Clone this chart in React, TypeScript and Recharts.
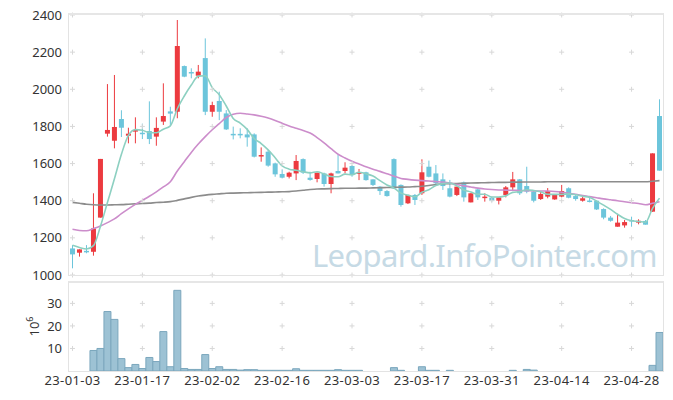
import {
  ComposedChart,
  Bar,
  Line,
  XAxis,
  YAxis,
  ReferenceDot,
} from 'recharts';

const dates = [
  '23-01-03', '23-01-04', '23-01-05', '23-01-06', '23-01-09', '23-01-10', '23-01-11', '23-01-12', '23-01-13', '23-01-16',
  '23-01-17', '23-01-18', '23-01-19', '23-01-20', '23-01-25', '23-01-26', '23-01-27', '23-01-30', '23-01-31', '23-02-01',
  '23-02-02', '23-02-03', '23-02-06', '23-02-07', '23-02-08', '23-02-09', '23-02-10', '23-02-13', '23-02-14', '23-02-15',
  '23-02-16', '23-02-17', '23-02-20', '23-02-21', '23-02-22', '23-02-23', '23-02-24', '23-02-27', '23-02-28', '23-03-02',
  '23-03-03', '23-03-06', '23-03-07', '23-03-08', '23-03-09', '23-03-10', '23-03-13', '23-03-14', '23-03-15', '23-03-16',
  '23-03-17', '23-03-20', '23-03-21', '23-03-22', '23-03-23', '23-03-24', '23-03-27', '23-03-28', '23-03-29', '23-03-30',
  '23-03-31', '23-04-03', '23-04-04', '23-04-05', '23-04-06', '23-04-07', '23-04-10', '23-04-11', '23-04-12', '23-04-13',
  '23-04-14', '23-04-17', '23-04-18', '23-04-19', '23-04-20', '23-04-21', '23-04-24', '23-04-25', '23-04-26', '23-04-27',
  '23-04-28', '23-05-02', '23-05-03', '23-05-04', '23-05-08',
];

const opens = [
  1143, 1120, 1130, 1125, 1309, 1761, 1723, 1840, 1750, 1772,
  1766, 1775, 1745, 1826, 1881, 1879, 2125, 2093, 2073, 2168,
  1879, 1937, 1870, 1760, 1760, 1757, 1757, 1643, 1664, 1601,
  1544, 1529, 1547, 1624, 1524, 1517, 1547, 1490, 1560, 1560,
  1587, 1547, 1553, 1515, 1476, 1452, 1624, 1485, 1386, 1431,
  1440, 1583, 1547, 1515, 1467, 1431, 1499, 1391, 1461, 1416,
  1416, 1400, 1431, 1472, 1515, 1479, 1449, 1409, 1422, 1407,
  1422, 1467, 1425, 1400, 1401, 1400, 1355, 1309, 1260, 1267,
  1296, 1282, 1291, 1341, 1856,
];
const highs = [
  1161, 1138, 1161, 1440, 1625, 2028, 2077, 1887, 1793, 1849,
  1815, 1935, 1849, 2032, 1906, 2373, 2128, 2113, 2131, 2274,
  1933, 1987, 1888, 1799, 1790, 1790, 1763, 1687, 1673, 1605,
  1569, 1556, 1646, 1628, 1556, 1551, 1551, 1551, 1646, 1607,
  1592, 1571, 1556, 1515, 1479, 1457, 1628, 1488, 1431, 1436,
  1623, 1616, 1592, 1547, 1512, 1476, 1503, 1440, 1467, 1440,
  1422, 1418, 1479, 1555, 1517, 1583, 1454, 1449, 1468, 1431,
  1485, 1472, 1431, 1422, 1418, 1402, 1359, 1318, 1327, 1296,
  1314, 1300, 1296, 1655, 1946,
];
const lows = [
  1036, 1099, 1117, 1104, 1309, 1745, 1682, 1743, 1709, 1709,
  1732, 1705, 1696, 1808, 1808, 1844, 2065, 2059, 2059, 1861,
  1852, 1834, 1781, 1730, 1736, 1691, 1633, 1610, 1583, 1529,
  1520, 1520, 1511, 1544, 1508, 1499, 1476, 1440, 1547, 1547,
  1529, 1511, 1508, 1479, 1431, 1422, 1463, 1368, 1382, 1377,
  1431, 1526, 1485, 1458, 1418, 1425, 1395, 1391, 1404, 1395,
  1395, 1380, 1418, 1458, 1431, 1440, 1391, 1404, 1413, 1405,
  1418, 1413, 1400, 1395, 1391, 1350, 1300, 1287, 1260, 1255,
  1260, 1273, 1271, 1341, 1562,
];
const closes = [
  1111, 1138, 1128, 1251, 1625, 1781, 1797, 1793, 1761, 1781,
  1764, 1732, 1792, 1856, 1869, 2233, 2068, 2089, 2095, 1879,
  1915, 1879, 1784, 1757, 1757, 1741, 1637, 1646, 1589, 1542,
  1524, 1551, 1614, 1551, 1512, 1551, 1490, 1547, 1547, 1578,
  1538, 1553, 1511, 1485, 1452, 1425, 1466, 1377, 1431, 1404,
  1553, 1529, 1494, 1479, 1422, 1476, 1418, 1440, 1418, 1422,
  1400, 1418, 1472, 1515, 1440, 1449, 1400, 1436, 1452, 1431,
  1452, 1416, 1409, 1413, 1398, 1353, 1309, 1292, 1282, 1285,
  1291, 1292, 1271, 1655, 1562,
];

// moving average lines
const ma5 = [
  1160, 1148, 1140, 1158, 1262, 1390, 1518, 1650, 1752, 1783,
  1779, 1767, 1766, 1785, 1803, 1895, 1964, 2023, 2071, 2073,
  2009, 1971, 1910, 1843, 1818, 1784, 1735, 1708, 1674, 1631,
  1588, 1570, 1564, 1556, 1550, 1556, 1544, 1530, 1529, 1543,
  1540, 1553, 1545, 1533, 1508, 1485, 1468, 1441, 1430, 1421,
  1446, 1459, 1482, 1492, 1495, 1480, 1458, 1447, 1435, 1435,
  1420, 1420, 1426, 1445, 1449, 1459, 1455, 1448, 1435, 1434,
  1434, 1437, 1432, 1424, 1418, 1398, 1376, 1353, 1327, 1304,
  1292, 1288, 1284, 1359, 1414,
];
const ma20 = [
  1246, 1240, 1238, 1250, 1264, 1282, 1302, 1330, 1356, 1380,
  1402, 1424, 1448, 1474, 1502, 1560, 1610, 1660, 1705, 1745,
  1782, 1815, 1848, 1866, 1871, 1867, 1862, 1855, 1845, 1832,
  1817, 1802, 1790, 1778, 1765, 1740, 1712, 1680, 1650, 1630,
  1612, 1598, 1583, 1570, 1558, 1545, 1532, 1520, 1515, 1511,
  1508, 1506, 1503, 1500, 1495, 1487, 1480, 1474, 1468, 1463,
  1460, 1458, 1457, 1456, 1455, 1454, 1453, 1452, 1452, 1450,
  1446, 1440, 1435, 1428, 1422, 1416, 1410, 1405, 1400, 1394,
  1389, 1385, 1378, 1386, 1395,
];
const ma60 = [
  1391, 1386, 1381, 1378, 1377, 1377, 1378, 1379, 1381, 1383,
  1385, 1387, 1390, 1392, 1395, 1402, 1410, 1418, 1425, 1430,
  1434, 1437, 1440, 1441, 1442, 1443, 1444, 1445, 1446, 1447,
  1448, 1449, 1452, 1456, 1460, 1463, 1464, 1465, 1466, 1467,
  1467, 1468, 1468, 1469, 1470, 1471, 1472, 1473, 1474, 1476,
  1478, 1482, 1487, 1491, 1492, 1493, 1494, 1495, 1496, 1497,
  1498, 1499, 1499, 1500, 1500, 1501, 1501, 1501, 1502, 1502,
  1502, 1502, 1502, 1502, 1502, 1502, 1502, 1502, 1502, 1502,
  1502, 1502, 1502, 1505, 1508,
];

// volume in millions
const volumes = [
  0, 0, 0, 9.1, 10.0, 26.4, 22.9, 5.5, 1.5, 2.9,
  1.1, 6.0, 4.2, 17.5, 1.9, 35.8, 1.1, 0.7, 0.7, 7.3,
  1.1, 1.9, 0.7, 0.7, 0.4, 0.6, 0.6, 0.3, 0.3, 0.3,
  0.3, 0.3, 1.0, 0.3, 0.3, 0.3, 0.3, 0.3, 0.6, 0.3,
  0.3, 0.3, 0, 0, 0, 0, 1.5, 0.3, 0, 0,
  1.9, 0.3, 0.3, 0, 0.3, 0, 0, 0, 0, 0,
  0, 0, 0, 0.3, 0, 0.7, 0.4, 0, 0, 0,
  0, 0, 0, 0, 0, 0, 0, 0, 0, 0,
  0, 0, 0, 2.5, 17.1,
];

const priceTicks = [1000, 1200, 1400, 1600, 1800, 2000, 2200, 2400];
const volTicks = [10, 20, 30];
const tickDates = dates.filter((_, i) => i % 10 === 0);

const RED = '#ec3a3f';
const BLUE = '#6cc5db';
const GRID = '#d8d8d8';

const data = dates.map((date, i) => ({
  date,
  open: opens[i],
  high: highs[i],
  low: lows[i],
  close: closes[i],
  ma5: ma5[i],
  ma20: ma20[i],
  ma60: ma60[i],
  vol: volumes[i],
}));

const Candle = (props: any) => {
  const { x, y, width, height, payload } = props;
  const { open, close, high, low } = payload;
  const color = close >= open ? RED : BLUE;
  const span = high - low || 1;
  const yOf = (v: number) => y + ((high - v) / span) * height;
  const top = yOf(Math.max(open, close));
  const bottom = yOf(Math.min(open, close));
  const cx = x + width / 2;
  return (
    <g>
      <line x1={cx} x2={cx} y1={y} y2={y + height} stroke={color} strokeWidth={1} />
      <rect x={x} y={top} width={width} height={Math.max(1.5, bottom - top)} fill={color} />
    </g>
  );
};

const Cross = (props: any) => {
  const { cx, cy } = props;
  return (
    <path
      d={`M${cx - 2.5},${cy}h5M${cx},${cy - 2.5}v5`}
      stroke={GRID}
      strokeWidth={1}
      fill="none"
    />
  );
};

const VolLabel = (props: any) => {
  const { viewBox } = props;
  const cx = viewBox.x + 25;
  const cy = viewBox.y + viewBox.height / 2;
  return (
    <text
      x={cx}
      y={cy}
      transform={`rotate(-90 ${cx} ${cy})`}
      textAnchor="middle"
      dominantBaseline="central"
      fontSize={13}
      fill="#333"
    >
      10<tspan dy={-5} fontSize={9}>6</tspan>
    </text>
  );
};

const tickStyle = { fontSize: 13, fill: '#333' };
const dateTickStyle = { fontSize: 13, fill: '#333', letterSpacing: 0.4 };

const App = () => {
  return (
    <div
      style={{
        position: 'absolute',
        left: 0,
        top: 0,
        width: 673,
        height: 400,
        background: '#fff',
        fontFamily: '"Noto Sans", sans-serif',
      }}
    >
      <div
        style={{
          position: 'absolute',
          left: 312,
          top: 240,
          fontSize: 31,
          lineHeight: '31px',
          letterSpacing: -0.65,
          color: '#c6dae5',
          whiteSpace: 'nowrap',
        }}
      >
        Leopard.InfoPointer.com
      </div>

      <div style={{ position: 'absolute', left: 0, top: 0 }}>
        <ComposedChart
          width={673}
          height={290}
          data={data}
          margin={{ top: 15, right: 10, bottom: 15, left: 9 }}
        >
          <XAxis dataKey="date" hide />
          <YAxis
            domain={[1000, 2400]}
            ticks={priceTicks}
            interval={0}
            width={60}
            axisLine={false}
            tickLine={false}
            tickSize={0}
            tickMargin={7}
            tick={tickStyle}
            allowDataOverflow
          />
          {tickDates.map((d) =>
            priceTicks.map((p) => (
              <ReferenceDot key={`${d}-${p}`} x={d} y={p} shape={Cross} ifOverflow="visible" />
            ))
          )}
          <Bar
            dataKey={(d: any) => [d.low, d.high]}
            barSize={5}
            shape={Candle}
            isAnimationActive={false}
          />
          <Line type="monotone" dataKey="ma60" stroke="#8c8c8c" strokeWidth={1.6} dot={false} isAnimationActive={false} />
          <Line type="monotone" dataKey="ma20" stroke="#cc8dcb" strokeWidth={1.6} dot={false} isAnimationActive={false} />
          <Line type="monotone" dataKey="ma5" stroke="#8dd0c1" strokeWidth={1.6} dot={false} isAnimationActive={false} />
        </ComposedChart>
      </div>

      <div style={{ position: 'absolute', left: 0, top: 278 }}>
        <ComposedChart
          width={673}
          height={122}
          data={data}
          margin={{ top: 4, right: 10, bottom: 0, left: 9 }}
          barCategoryGap={0}
        >
          <XAxis
            dataKey="date"
            interval={9}
            height={29}
            axisLine={false}
            tickLine={false}
            tickSize={0}
            tickMargin={5}
            tick={dateTickStyle}
          />
          <YAxis
            domain={[0, 39.5]}
            ticks={volTicks}
            interval={0}
            width={60}
            axisLine={false}
            tickLine={false}
            tickSize={0}
            tickMargin={7}
            tick={tickStyle}
            label={{ content: VolLabel }}
          />
          {tickDates.map((d) =>
            volTicks.map((v) => (
              <ReferenceDot key={`${d}-${v}`} x={d} y={v} shape={Cross} ifOverflow="visible" />
            ))
          )}
          <Bar
            dataKey="vol"
            fill="#9dc2d4"
            stroke="#7ba7bd"
            strokeWidth={1}
            isAnimationActive={false}
          />
        </ComposedChart>
      </div>

      <div
        style={{
          position: 'absolute',
          left: 68,
          top: 13,
          width: 596,
          height: 263,
          boxSizing: 'border-box',
          border: '1px solid #e3e3e3',
          borderTop: '2px solid #e6e6e6',
          pointerEvents: 'none',
        }}
      />
      <div
        style={{
          position: 'absolute',
          left: 68,
          top: 281,
          width: 596,
          height: 91,
          boxSizing: 'border-box',
          border: '1px solid #e3e3e3',
          borderTop: '2px solid #e6e6e6',
          pointerEvents: 'none',
        }}
      />
    </div>
  );
};

export default App;
